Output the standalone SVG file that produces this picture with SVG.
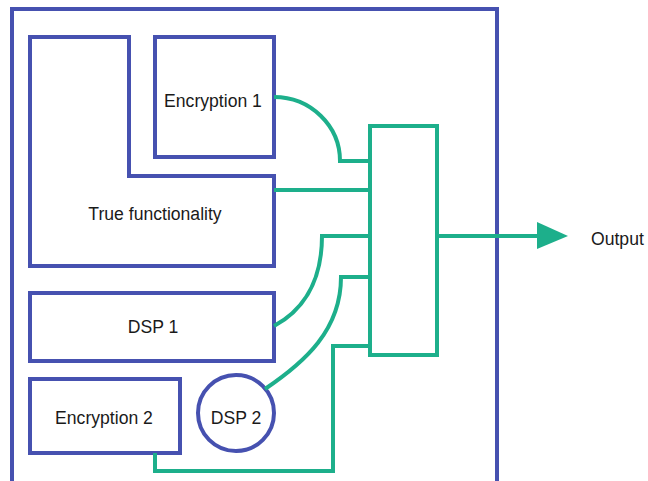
<svg xmlns="http://www.w3.org/2000/svg" width="648" height="481" viewBox="0 0 648 481">
  <style>
    .blk { fill: none; stroke: #4651B0; stroke-width: 4; }
    .wire { fill: none; stroke: #1DAF8B; stroke-width: 4; }
    .lbl { font-family: "Liberation Sans", Arial, sans-serif; font-size: 17.6px; fill: #1a1a1a; text-anchor: middle; }
  </style>
  <rect width="648" height="481" fill="#ffffff"/>

  <!-- chip outline -->
  <g id="chip">
    <rect class="blk" x="12" y="9" width="485" height="490"/>
  </g>

  <g id="true-functionality">
    <path class="blk" d="M30,37 H129 V176 H274 V266 H30 Z"/>
    <text class="lbl" x="155" y="220">True functionality</text>
  </g>

  <g id="encryption-1">
    <rect class="blk" x="155" y="37" width="119" height="120"/>
    <text class="lbl" x="213" y="107">Encryption 1</text>
  </g>

  <g id="dsp-1">
    <rect class="blk" x="30" y="293" width="244" height="68"/>
    <text class="lbl" x="153" y="333">DSP 1</text>
  </g>

  <g id="encryption-2">
    <rect class="blk" x="30" y="379" width="150" height="74"/>
    <text class="lbl" x="104" y="424">Encryption 2</text>
  </g>

  <g id="dsp-2">
    <circle class="blk" cx="236" cy="413" r="38"/>
    <text class="lbl" x="236" y="424">DSP 2</text>
  </g>

  <g id="combiner">
    <rect class="wire" x="370" y="126" width="67" height="229"/>
  </g>

  <g id="output">
    <text class="lbl" x="591" y="245" style="text-anchor:start">Output</text>
  </g>

  <!-- connectors -->
  <g id="connectors">
    <path class="wire" d="M274,97 A66,64 0 0 1 340,161 H370"/>
    <path class="wire" d="M274,190 H370"/>
    <path class="wire" d="M274,326 C300,312 322,285 322,236 H370"/>
    <path class="wire" d="M265,389 C305,362 341,330 341,277 H370"/>
    <path class="wire" d="M155,453 V471 H333 V346 H370"/>
    <path class="wire" d="M437,236 H540"/>
    <polygon points="537,222 568,236 537,249" fill="#1DAF8B"/>
  </g>
</svg>
